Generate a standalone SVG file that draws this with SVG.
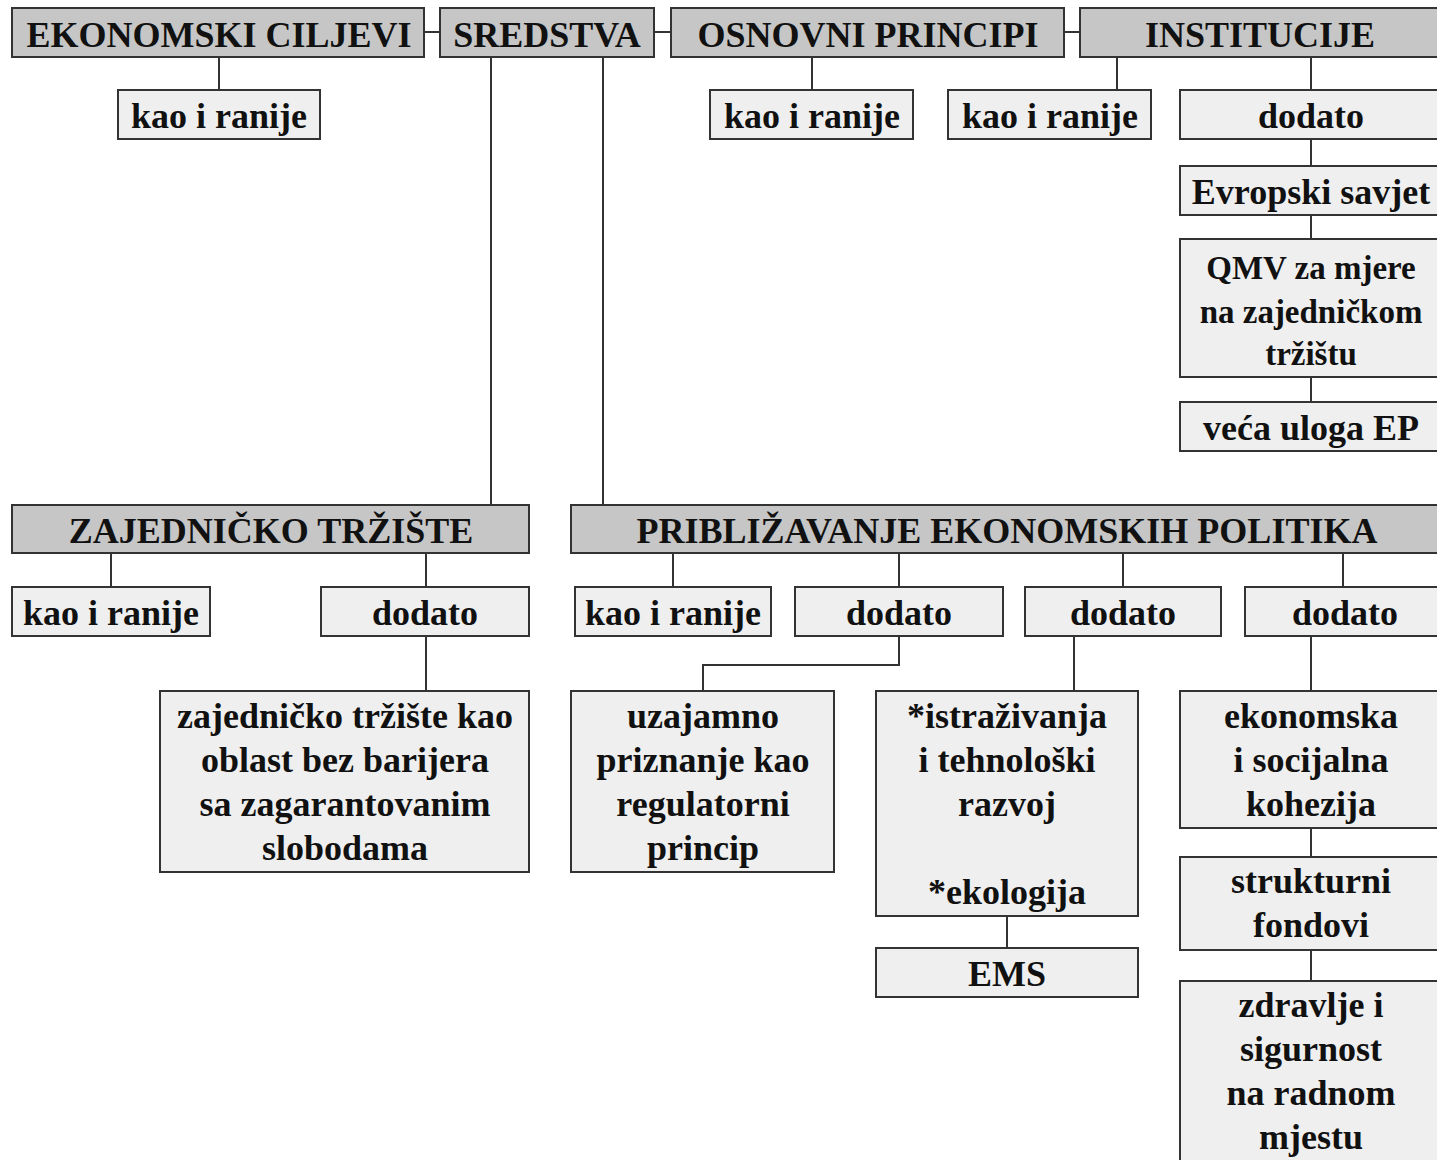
<svg xmlns="http://www.w3.org/2000/svg" width="1437" height="1160" viewBox="0 0 1437 1160">
<style>
.h{fill:#c6c6c6;stroke:#333;stroke-width:2}
.c{fill:#efefef;stroke:#333;stroke-width:2}
text{font-family:"Liberation Serif","Times New Roman",serif;font-weight:bold;font-size:36px;fill:#111;text-anchor:middle}
.s{font-size:33px}
#connectors line,#connectors polyline{stroke:#333;stroke-width:2;fill:none}
</style>
<rect width="1437" height="1160" fill="#fff"/>
<g id="connectors">
<line x1="424" y1="32" x2="440" y2="32"/>
<line x1="654" y1="32" x2="671" y2="32"/>
<line x1="1064" y1="32" x2="1080" y2="32"/>
<line x1="219" y1="57" x2="219" y2="90"/>
<line x1="491" y1="57" x2="491" y2="505"/>
<line x1="603" y1="57" x2="603" y2="505"/>
<line x1="812" y1="57" x2="812" y2="90"/>
<line x1="1117" y1="57" x2="1117" y2="90"/>
<line x1="1311" y1="57" x2="1311" y2="90"/>
<line x1="1311" y1="139" x2="1311" y2="166"/>
<line x1="1311" y1="215" x2="1311" y2="239"/>
<line x1="1311" y1="377" x2="1311" y2="402"/>
<line x1="111" y1="553" x2="111" y2="587"/>
<line x1="426" y1="553" x2="426" y2="587"/>
<line x1="673" y1="553" x2="673" y2="587"/>
<line x1="899" y1="553" x2="899" y2="587"/>
<line x1="1123" y1="553" x2="1123" y2="587"/>
<line x1="1343" y1="553" x2="1343" y2="587"/>
<line x1="426" y1="636" x2="426" y2="691"/>
<polyline points="899,636 899,665 703,665 703,691"/>
<line x1="1074" y1="636" x2="1074" y2="691"/>
<line x1="1007" y1="916" x2="1007" y2="948"/>
<line x1="1311" y1="636" x2="1311" y2="691"/>
<line x1="1311" y1="828" x2="1311" y2="857"/>
<line x1="1311" y1="950" x2="1311" y2="981"/>
</g>
<g id="ekonomski-ciljevi"><rect class="h" x="12" y="8" width="412" height="49"/><text x="219" y="47">EKONOMSKI CILJEVI</text></g>
<g id="sredstva"><rect class="h" x="440" y="8" width="214" height="49"/><text x="547" y="47">SREDSTVA</text></g>
<g id="osnovni-principi"><rect class="h" x="671" y="8" width="393" height="49"/><text x="868" y="47">OSNOVNI PRINCIPI</text></g>
<g id="institucije"><rect class="h" x="1080" y="8" width="370" height="49"/><text x="1260" y="47">INSTITUCIJE</text></g>
<g id="ec-kao"><rect class="c" x="118" y="90" width="202" height="49"/><text x="219" y="128">kao i ranije</text></g>
<g id="op-kao"><rect class="c" x="710" y="90" width="203" height="49"/><text x="812" y="128">kao i ranije</text></g>
<g id="in-kao"><rect class="c" x="948" y="90" width="203" height="49"/><text x="1050" y="128">kao i ranije</text></g>
<g id="in-dodato"><rect class="c" x="1180" y="90" width="270" height="49"/><text x="1311" y="128">dodato</text></g>
<g id="evropski-savjet"><rect class="c" x="1180" y="166" width="270" height="49"/><text x="1311" y="204">Evropski savjet</text></g>
<g id="qmv"><rect class="c" x="1180" y="239" width="270" height="138"/><text class="s" x="1311" y="279">QMV za mjere</text><text class="s" x="1311" y="323">na zajedničkom</text><text class="s" x="1311" y="365">tržištu</text></g>
<g id="veca-uloga"><rect class="c" x="1180" y="402" width="270" height="49"/><text x="1311" y="440">veća uloga EP</text></g>
<g id="zajednicko-trziste"><rect class="h" x="12" y="505" width="517" height="48"/><text x="271" y="543">ZAJEDNIČKO TRŽIŠTE</text></g>
<g id="priblizavanje"><rect class="h" x="571" y="505" width="880" height="48"/><text x="1007" y="543">PRIBLIŽAVANJE EKONOMSKIH POLITIKA</text></g>
<g id="zt-kao"><rect class="c" x="12" y="587" width="198" height="49"/><text x="111" y="625">kao i ranije</text></g>
<g id="zt-dodato"><rect class="c" x="321" y="587" width="208" height="49"/><text x="425" y="625">dodato</text></g>
<g id="pep-kao"><rect class="c" x="575" y="587" width="196" height="49"/><text x="673" y="625">kao i ranije</text></g>
<g id="pep-dodato1"><rect class="c" x="795" y="587" width="208" height="49"/><text x="899" y="625">dodato</text></g>
<g id="pep-dodato2"><rect class="c" x="1025" y="587" width="196" height="49"/><text x="1123" y="625">dodato</text></g>
<g id="pep-dodato3"><rect class="c" x="1245" y="587" width="205" height="49"/><text x="1345" y="625">dodato</text></g>
<g id="zt-opis"><rect class="c" x="160" y="691" width="369" height="181"/><text x="345" y="728">zajedničko tržište kao</text><text x="345" y="772">oblast bez barijera</text><text x="345" y="816">sa zagarantovanim</text><text x="345" y="860">slobodama</text></g>
<g id="uzajamno"><rect class="c" x="571" y="691" width="263" height="181"/><text x="703" y="728">uzajamno</text><text x="703" y="772">priznanje kao</text><text x="703" y="816">regulatorni</text><text x="703" y="860">princip</text></g>
<g id="istrazivanja"><rect class="c" x="876" y="691" width="262" height="225"/><text x="1007" y="728">*istraživanja</text><text x="1007" y="772">i tehnološki</text><text x="1007" y="816">razvoj</text><text x="1007" y="904">*ekologija</text></g>
<g id="ems"><rect class="c" x="876" y="948" width="262" height="49"/><text x="1007" y="986">EMS</text></g>
<g id="kohezija"><rect class="c" x="1180" y="691" width="270" height="137"/><text x="1311" y="728">ekonomska</text><text x="1311" y="772">i socijalna</text><text x="1311" y="816">kohezija</text></g>
<g id="fondovi"><rect class="c" x="1180" y="857" width="270" height="93"/><text x="1311" y="893">strukturni</text><text x="1311" y="937">fondovi</text></g>
<g id="zdravlje"><rect class="c" x="1180" y="981" width="270" height="200"/><text x="1311" y="1017">zdravlje i</text><text x="1311" y="1061">sigurnost</text><text x="1311" y="1105">na radnom</text><text x="1311" y="1149">mjestu</text></g>
</svg>
